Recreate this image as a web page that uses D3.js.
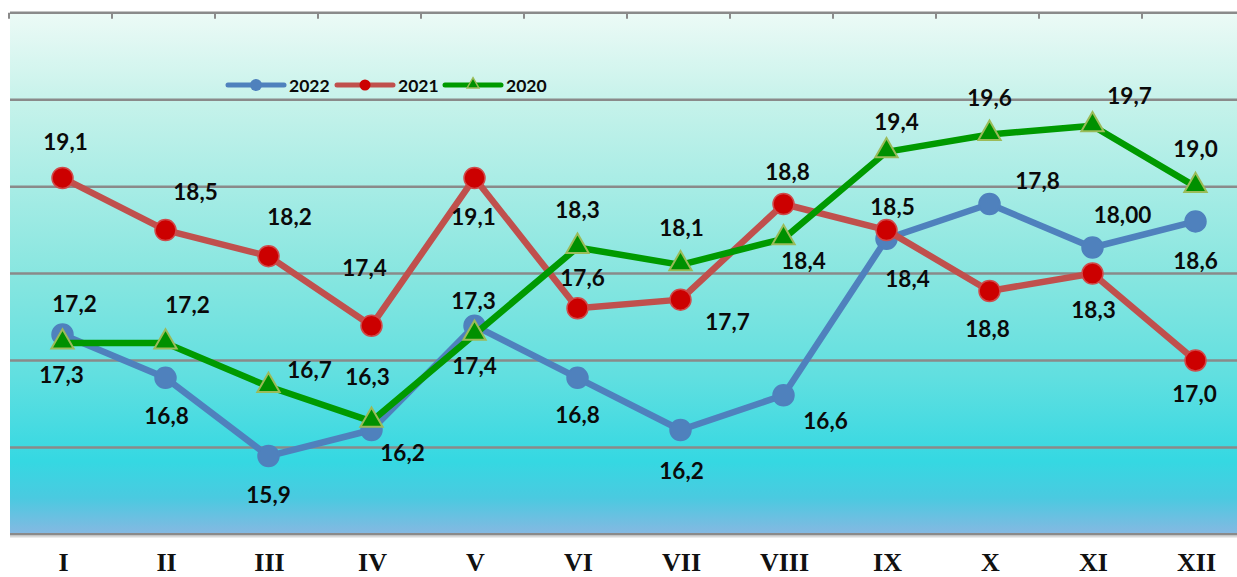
<!DOCTYPE html>
<html>
<head>
<meta charset="utf-8">
<script src="https://cdn.jsdelivr.net/npm/d3@7"></script>
<style>
  html, body { margin: 0; padding: 0; background: #ffffff; }
  svg { display: block; }
</style>
</head>
<body>
<svg id="chart" width="1237" height="577"></svg>
<script>
// ---------- DATA ----------
const categories = ["I","II","III","IV","V","VI","VII","VIII","IX","X","XI","XII"];
const years = ["2022","2021","2020"];
const values2022 = [17.3,16.8,15.9,16.2,17.4,16.8,16.2,16.6,18.4,18.8,18.3,18.6];
const values2021 = [19.1,18.5,18.2,17.4,19.1,17.6,17.7,18.8,18.5,17.8,18.0,17.0];
const values2020 = [17.2,17.2,16.7,16.3,17.3,18.3,18.1,18.4,19.4,19.6,19.7,19.0];
// data label texts as printed on the chart
const labels2022 = ["17,2","16,8","15,9","16,2","17,3","16,8","16,2","16,6","18,4","17,8","18,00","18,6"];
const labels2021 = ["19,1","18,5","18,2","17,4","19,1","17,6","17,7","18,8","18,5","18,8","18,3","17,0"];
const labels2020 = ["17,3","17,2","16,7","16,3","17,4","18,3","18,1","18,4","19,4","19,6","19,7","19,0"];
const yTicks = [15,16,17,18,19,20,21];

// ---------- LAYOUT (label offsets in px from the point) ----------
const off2022 = [[12,-31],[1,38],[0,38],[31,22],[-1,-25],[0,37],[1,40],[42,25],[21,40],[48,-24],[30,-33],[0,39]];
const off2021 = [[3,-36],[30,-39],[21,-40],[-7,-58],[-1,39],[5,-31],[47,22],[4,-33],[6,-24],[-2,38],[1,36],[-1,33]];
const off2020 = [[-1,31],[22,-39],[41,-17],[-4,-45],[0,31],[0,-38],[1,-37],[20,22],[10,-30],[0,-37],[37,-30],[0,-38]];

const svg = d3.select("#chart");
const plot = { left: 11, right: 1247, top: 12.8, bottom: 534.3 };

const x = d3.scaleBand().domain(categories).range([plot.left, plot.right]).padding(0);
const y = d3.scaleLinear().domain([15, 21]).range([plot.bottom, plot.top]);
const cx = c => x(c) + x.bandwidth() / 2;

// background gradient
const defs = svg.append("defs");
const grad = defs.append("linearGradient").attr("id","bg").attr("x1",0).attr("y1",0).attr("x2",0).attr("y2",1);
[[0,"#ecfaf6"],[0.18,"#c4f2ea"],[0.5,"#88e6e0"],[0.7,"#60dfe0"],[0.86,"#35d8e2"],[0.93,"#4acae0"],[1,"#86b8e2"]]
  .forEach(([o,c]) => grad.append("stop").attr("offset",o).attr("stop-color",c));

svg.append("rect")
  .attr("x", plot.left - 1).attr("y", plot.top)
  .attr("width", plot.right - plot.left + 1).attr("height", plot.bottom - plot.top)
  .attr("fill", "url(#bg)");

// horizontal gridlines
svg.append("g").selectAll("line").data(yTicks).join("line")
  .attr("x1", plot.left - 1).attr("x2", plot.right)
  .attr("y1", d => y(d)).attr("y2", d => y(d))
  .attr("stroke", "#8a8a8a").attr("stroke-width", 2.5);
svg.append("line")
  .attr("x1", plot.left - 1).attr("x2", plot.right)
  .attr("y1", y(15) + 2.5).attr("y2", y(15) + 2.5)
  .attr("stroke", "#d8d8d8").attr("stroke-width", 1.5);

// top category tick marks (band boundaries)
const bounds = categories.map(c => x(c)).concat([x(categories[categories.length-1]) + x.bandwidth()]);
svg.append("g").selectAll("line").data(bounds).join("line")
  .attr("x1", d => d - 2).attr("x2", d => d - 2)
  .attr("y1", y(21)).attr("y2", y(21) + 6)
  .attr("stroke", "#8a8a8a").attr("stroke-width", 2);

// bottom category axis labels
const xAxis = d3.axisBottom(x).tickSize(0).tickPadding(0);
const gx = svg.append("g").attr("transform", `translate(1,${plot.bottom})`).call(xAxis);
gx.select(".domain").remove();
gx.selectAll("text")
  .attr("y", 36.5).attr("dy", 0)
  .style("font-family", "'Liberation Serif', 'Times New Roman', serif")
  .style("font-weight", "bold").style("font-size", "26px").attr("fill", "#111");

// series
const series = [
  { name: "2022", values: values2022, labels: labels2022, offs: off2022, line: "#4f81bd", marker: "circle", fill: "#4f81bd", stroke: "#4f81bd", r: 10.5 },
  { name: "2021", values: values2021, labels: labels2021, offs: off2021, line: "#c0504d", marker: "circle", fill: "#cc0000", stroke: "#d04a4a", r: 10.5 },
  { name: "2020", values: values2020, labels: labels2020, offs: off2020, line: "#009a00", marker: "triangle", fill: "#009000", stroke: "#9bbb59", r: 10 }
];

const line = d3.line().x((d,i) => cx(categories[i])).y(d => y(d));
const tri = d3.symbol().type(d3.symbolTriangle);

series.forEach(s => {
  const g = svg.append("g");
  g.append("path").attr("d", line(s.values)).attr("fill","none")
    .attr("stroke", s.line).attr("stroke-width", 6.5).attr("stroke-linejoin","round").attr("stroke-linecap","round");
  if (s.marker === "circle") {
    g.selectAll("circle").data(s.values).join("circle")
      .attr("cx", (d,i) => cx(categories[i])).attr("cy", d => y(d)).attr("r", s.r)
      .attr("fill", s.fill).attr("stroke", s.stroke).attr("stroke-width", 1.5);
  } else {
    g.selectAll("path.m").data(s.values).join("path").attr("class","m")
      .attr("d", tri.size(215)())
      .attr("transform", (d,i) => `translate(${cx(categories[i])},${y(d) - 1})`)
      .attr("fill", s.fill).attr("stroke", s.stroke).attr("stroke-width", 2);
  }
});

// data labels
series.forEach(s => {
  svg.append("g").selectAll("text").data(s.values).join("text")
    .attr("x", (d,i) => cx(categories[i]) + s.offs[i][0])
    .attr("y", (d,i) => y(d) + s.offs[i][1])
    .attr("text-anchor","middle").attr("dominant-baseline","central")
    .style("font-family","Lato, 'Open Sans', sans-serif").style("font-weight","bold").style("font-size","22.5px")
    .attr("fill","#0a0a0a")
    .text((d,i) => s.labels[i]);
});

// legend
const legendX = [228, 337, 445];
const legend = svg.append("g");
series.forEach((s, k) => {
  const lx = legendX[k], ly = 85;
  const lg = legend.append("g").attr("transform", `translate(${lx},${ly})`);
  lg.append("line").attr("x1",0).attr("x2",56).attr("y1",0).attr("y2",0)
    .attr("stroke", s.line).attr("stroke-width", 5).attr("stroke-linecap","round");
  if (s.marker === "circle") {
    lg.append("circle").attr("cx",28).attr("cy",0).attr("r", k === 0 ? 6 : 5.5).attr("fill", s.fill);
  } else {
    lg.append("path").attr("d", tri.size(60)()).attr("transform","translate(28,-0.5)")
      .attr("fill", s.fill).attr("stroke", s.stroke).attr("stroke-width", 1.5);
  }
  lg.append("text").attr("x", 61).attr("y", 0).attr("dominant-baseline","central")
    .style("font-family","Lato, sans-serif").style("font-weight","bold").style("font-size","17.5px")
    .attr("fill","#0a0a0a").text(years[k]);
});
</script>
</body>
</html>
